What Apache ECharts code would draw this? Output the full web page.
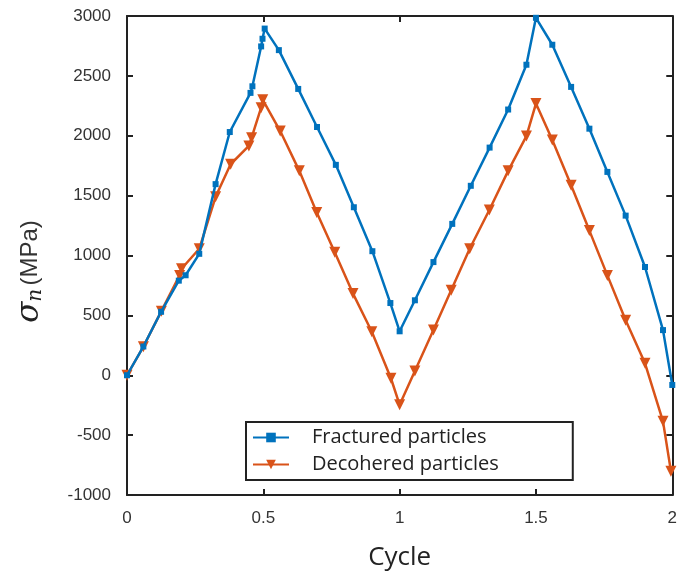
<!DOCTYPE html>
<html><head><meta charset="utf-8">
<script src="https://cdn.jsdelivr.net/npm/echarts@6/dist/echarts.min.js"></script>
<style>html,body{margin:0;padding:0;background:#fff}#c{width:680px;height:576px}</style>
</head><body><div id="c"></div>
<script>
const fracX = [0, 0.06, 0.125, 0.19, 0.215, 0.265, 0.325, 0.377, 0.453, 0.46, 0.492, 0.497, 0.505, 0.557, 0.628, 0.697, 0.766, 0.832, 0.9, 0.966, 1.0, 1.056, 1.124, 1.193, 1.261, 1.33, 1.398, 1.465, 1.5, 1.56, 1.629, 1.696, 1.762, 1.829, 1.9, 1.966, 2.0];
const fracY = [0, 240, 530, 790, 835, 1014, 1596, 2031, 2358, 2413, 2746, 2810, 2895, 2715, 2391, 2073, 1757, 1403, 1036, 603, 367, 626, 945, 1264, 1582, 1901, 2219, 2593, 2985, 2760, 2408, 2059, 1698, 1333, 904, 377, -81];
const decoX = [0, 0.06, 0.126, 0.193, 0.2, 0.265, 0.325, 0.38, 0.447, 0.457, 0.492, 0.498, 0.562, 0.632, 0.696, 0.762, 0.829, 0.898, 0.968, 1.0, 1.056, 1.124, 1.189, 1.257, 1.329, 1.398, 1.465, 1.5, 1.56, 1.629, 1.696, 1.762, 1.829, 1.9, 1.966, 1.995];
const decoY = [0, 238, 535, 834, 889, 1056, 1490, 1762, 1915, 1984, 2234, 2300, 2039, 1707, 1359, 1028, 682, 363, -25, -247, 36, 377, 709, 1056, 1380, 1707, 1997, 2269, 1964, 1586, 1208, 834, 460, 100, -385, -801];
const seriesNames = ['Fractured particles', 'Decohered particles'];
const xTicks = {min: 0, max: 2, interval: 0.5};
const yTicks = {min: -1000, max: 3000, interval: 500};

const chart = echarts.init(document.getElementById('c'), null, {renderer: 'canvas'});
const axisLine = {show: true, onZero: false, lineStyle: {color: '#222', width: 2}};
const tickIn = {show: true, inside: true, length: 6, lineStyle: {color: '#222', width: 2}};
const labelFont = {color: '#333', fontSize: 17, fontFamily: 'Liberation Sans, Arial, sans-serif', formatter: v => String(v)};
chart.setOption({
  animation: false,
  backgroundColor: '#fff',
  grid: {left: 127, right: 3, top: 16, bottom: 80, containLabel: false},
  xAxis: [{
    type: 'value', min: xTicks.min, max: xTicks.max, interval: xTicks.interval,
    axisLine: axisLine, axisTick: tickIn, splitLine: {show: false},
    axisLabel: Object.assign({margin: 15}, labelFont),
    name: 'Cycle', nameLocation: 'middle', nameGap: 50,
    nameTextStyle: {fontSize: 26, color: '#222', fontFamily: 'Open Sans, sans-serif'}
  }, {
    type: 'value', position: 'top', min: xTicks.min, max: xTicks.max, interval: xTicks.interval,
    axisLine: axisLine, axisTick: tickIn, axisLabel: {show: false}, splitLine: {show: false}
  }],
  yAxis: [{
    type: 'value', min: yTicks.min, max: yTicks.max, interval: yTicks.interval,
    axisLine: axisLine, axisTick: tickIn, splitLine: {show: false},
    axisLabel: Object.assign({margin: 16}, labelFont),
    name: '{s|σ}{n|n} {t|(MPa)}', nameLocation: 'middle', nameGap: 81, nameRotate: 90,
    nameTextStyle: {
      padding: [0, 32, 0, 0],
      rich: {
        s: {fontSize: 31, fontStyle: 'italic', color: '#222', fontFamily: 'DejaVu Serif, serif'},
        n: {fontSize: 20, fontStyle: 'italic', color: '#222', fontFamily: 'DejaVu Serif, serif', padding: [12, 0, 0, 0]},
        t: {fontSize: 24, color: '#333', fontFamily: 'Liberation Sans, Arial, sans-serif'}
      }
    }
  }, {
    type: 'value', position: 'right', min: yTicks.min, max: yTicks.max, interval: yTicks.interval,
    axisLine: axisLine, axisTick: tickIn, axisLabel: {show: false}, splitLine: {show: false}
  }],
  legend: {
    orient: 'vertical', left: 246, top: 422,
    backgroundColor: '#fff', borderColor: '#222', borderWidth: 2,
    padding: [3, 74, 3, 6], itemGap: 2, itemWidth: 36, itemHeight: 12,
    textStyle: {fontSize: 20, lineHeight: 25, color: '#222', fontFamily: 'Open Sans, sans-serif', padding: [0, 0, 0, 18]},
    data: seriesNames
  },
  series: [{
    name: seriesNames[0], type: 'line', data: fracX.map((x, i) => [x, fracY[i]]),
    color: '#0072BD', lineStyle: {width: 2.5}, symbol: 'rect', symbolSize: 6,
    itemStyle: {color: '#0072BD'}, z: 3
  }, {
    name: seriesNames[1], type: 'line', data: decoX.map((x, i) => [x, decoY[i]]),
    color: '#D95319', lineStyle: {width: 2.5}, symbol: 'triangle', symbolRotate: 180, symbolSize: 11,
    itemStyle: {color: '#D95319'}, z: 2
  }]
});
</script></body></html>
